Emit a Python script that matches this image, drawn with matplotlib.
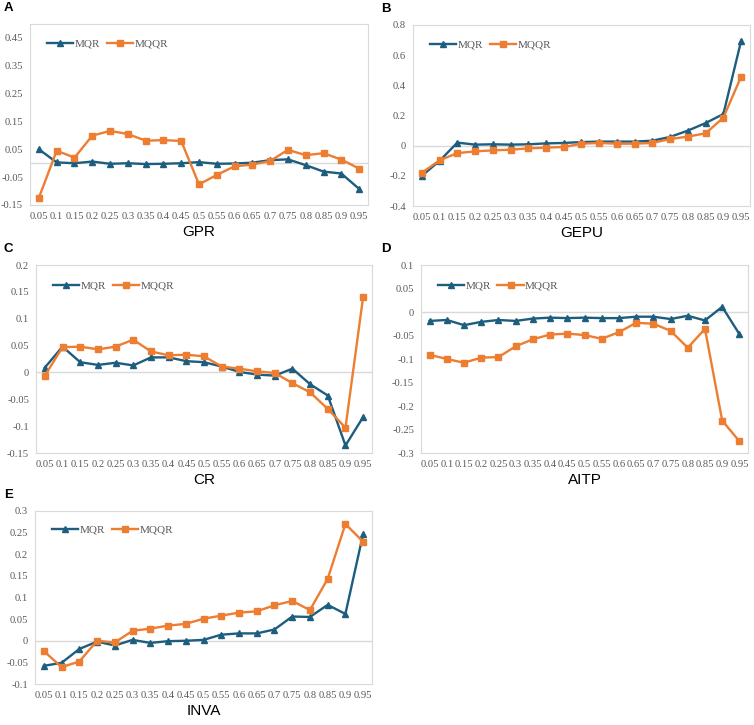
import numpy as np
import matplotlib.pyplot as plt

quantiles = ["0.05", "0.1", "0.15", "0.2", "0.25", "0.3", "0.35", "0.4", "0.45", "0.5",
             "0.55", "0.6", "0.65", "0.7", "0.75", "0.8", "0.85", "0.9", "0.95"]

gpr_mqr = [0.050, 0.003, 0.000, 0.006, -0.002, 0.000, -0.003, -0.002, 0.000, 0.004,
           -0.002, -0.001, 0.002, 0.011, 0.014, -0.007, -0.030, -0.037, -0.092]
gpr_mqqr = [-0.124, 0.045, 0.020, 0.099, 0.116, 0.105, 0.081, 0.083, 0.080, -0.076,
            -0.042, -0.011, -0.005, 0.008, 0.048, 0.029, 0.036, 0.013, -0.019]

gepu_mqr = [-0.20, -0.10, 0.020, 0.007, 0.009, 0.007, 0.009, 0.015, 0.018, 0.024,
            0.027, 0.027, 0.027, 0.033, 0.058, 0.10, 0.15, 0.21, 0.695]
gepu_mqqr = [-0.18, -0.097, -0.049, -0.038, -0.031, -0.027, -0.018, -0.013, -0.009, 0.013,
             0.018, 0.013, 0.013, 0.018, 0.044, 0.060, 0.082, 0.186, 0.458]

cr_mqr = [0.009, 0.048, 0.019, 0.014, 0.018, 0.013, 0.028, 0.028, 0.021, 0.019,
          0.011, 0.001, -0.004, -0.006, 0.007, -0.022, -0.043, -0.136, -0.083]
cr_mqqr = [-0.006, 0.047, 0.048, 0.043, 0.048, 0.061, 0.039, 0.032, 0.033, 0.030,
           0.011, 0.007, 0.002, -0.001, -0.020, -0.037, -0.068, -0.103, 0.141]

aitp_mqr = [-0.019, -0.017, -0.028, -0.021, -0.017, -0.019, -0.014, -0.012, -0.013, -0.012,
            -0.013, -0.013, -0.010, -0.010, -0.015, -0.008, -0.018, 0.011, -0.047]
aitp_mqqr = [-0.091, -0.100, -0.108, -0.097, -0.096, -0.073, -0.058, -0.048, -0.046, -0.049,
             -0.057, -0.043, -0.023, -0.025, -0.040, -0.076, -0.036, -0.231, -0.275]

inva_mqr = [-0.058, -0.051, -0.019, -0.002, -0.011, 0.002, -0.005, -0.001, 0.000, 0.002,
            0.014, 0.017, 0.017, 0.026, 0.056, 0.055, 0.083, 0.062, 0.247]
inva_mqqr = [-0.024, -0.061, -0.048, 0.000, -0.004, 0.023, 0.028, 0.035, 0.039, 0.051,
             0.058, 0.065, 0.068, 0.082, 0.092, 0.071, 0.143, 0.270, 0.229]

W, H = 754, 725
blue = "#1d5d7e"
orange = "#ed7d31"
grey = "#d9d9d9"
txt = "#595959"

fig = plt.figure(figsize=(W / 100, H / 100), dpi=100)


def panel(box, letter, name, mqr, mqqr, yticks, ylim):
    x0, y0, x1, y1 = box
    ax = fig.add_axes([x0 / W, 1 - y1 / H, (x1 - x0) / W, (y1 - y0) / H])
    x = np.arange(len(quantiles))
    ax.axhline(0, color=grey, lw=1, zorder=1)
    ax.plot(x, mqr, color=blue, lw=1.7, marker="^", ms=5, label="MQR", zorder=3)
    ax.plot(x, mqqr, color=orange, lw=1.7, marker="s", ms=4.6, label="MQQR", zorder=3)
    ax.set_xlim(-0.5, len(quantiles) - 0.5)
    ax.set_ylim(*ylim)
    ax.set_xticks(x)
    ax.set_xticklabels(quantiles, family="Liberation Serif", fontsize=7.6, color=txt)
    ax.set_yticks(yticks)
    ax.set_yticklabels(["%g" % round(v, 3) for v in yticks], family="Liberation Serif",
                       fontsize=7.6, color=txt)
    ax.tick_params(length=0, pad=5)
    for s in ax.spines.values():
        s.set_color(grey)
    ax.set_xlabel(name, family="Liberation Sans", fontsize=11, labelpad=3)
    leg = ax.legend(loc="center left", bbox_to_anchor=(0.02, 0.89), ncol=2, frameon=False,
                    prop={"family": "Liberation Serif", "size": 8}, handlelength=2.4,
                    columnspacing=0.6, handletextpad=0.1)
    for t in leg.get_texts():
        t.set_color(txt)
    fig.text(4 / W if x0 < 300 else 381 / W, 1 - (y0 - 16) / H, letter,
             fontsize=9.5, fontweight="bold", family="Liberation Sans", va="center")
    return ax


panel((30, 24, 368, 205), "A", "GPR", gpr_mqr, gpr_mqqr,
      [-0.15, -0.05, 0.05, 0.15, 0.25, 0.35, 0.45], (-0.15, 0.5))
panel((413, 25, 750, 206), "B", "GEPU", gepu_mqr, gepu_mqqr,
      [-0.4, -0.2, 0, 0.2, 0.4, 0.6, 0.8], (-0.4, 0.8))
panel((36, 265, 372, 453), "C", "CR", cr_mqr, cr_mqqr,
      [-0.15, -0.1, -0.05, 0, 0.05, 0.1, 0.15, 0.2], (-0.15, 0.2))
panel((421, 265, 748, 453), "D", "AITP", aitp_mqr, aitp_mqqr,
      [-0.3, -0.25, -0.2, -0.15, -0.1, -0.05, 0, 0.05, 0.1], (-0.3, 0.1))
panel((35, 511, 372, 684), "E", "INVA", inva_mqr, inva_mqqr,
      [-0.1, -0.05, 0, 0.05, 0.1, 0.15, 0.2, 0.25, 0.3], (-0.1, 0.3))

fig.savefig("out.png", dpi=100)
